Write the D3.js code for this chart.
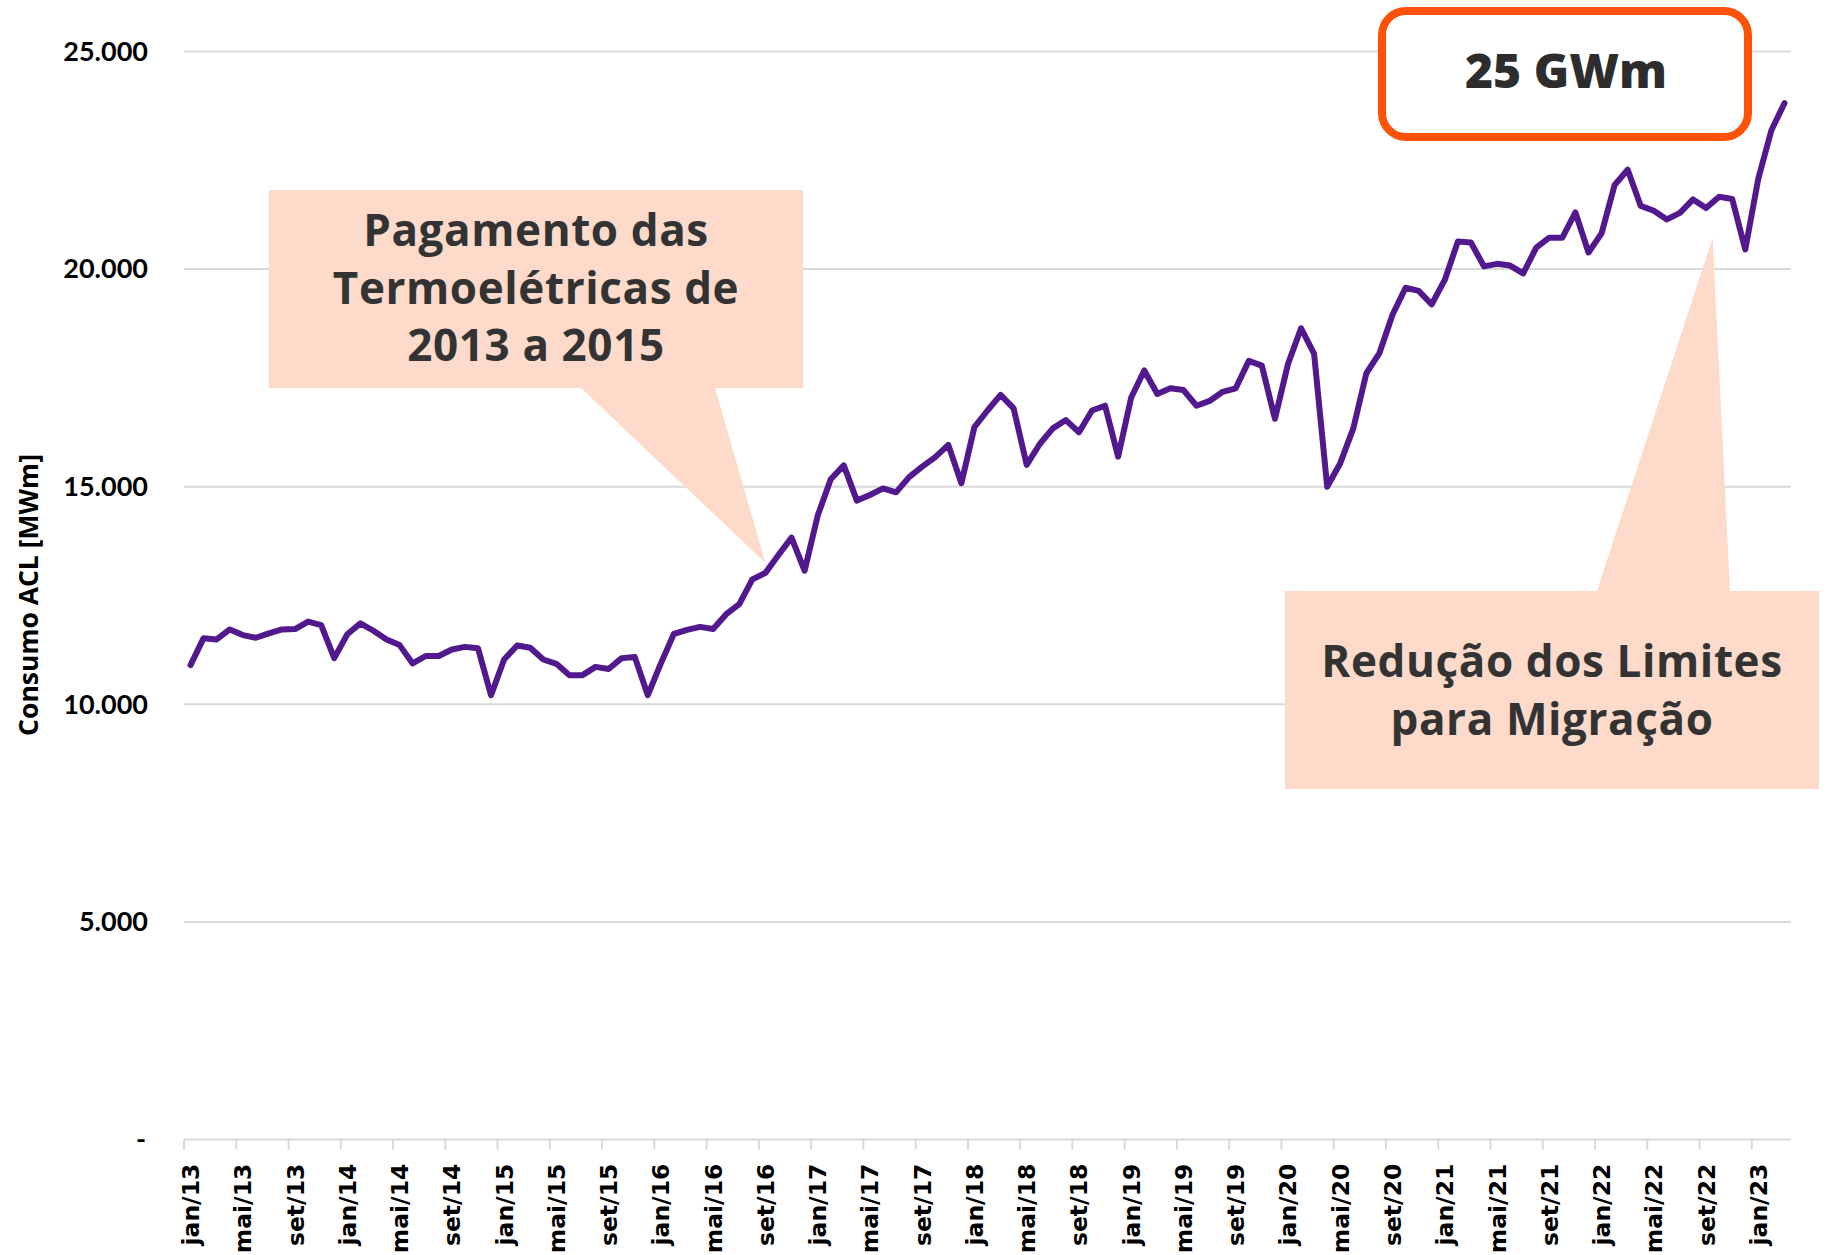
<!DOCTYPE html>
<html>
<head>
<meta charset="utf-8">
<script src="https://cdn.jsdelivr.net/npm/d3@7"></script>
<style>
    body { margin: 0; background: #fff; }
    svg { display: block; }
    .y-tick { font-family: Lato, sans-serif; font-weight: 700; font-size: 27px; fill: #000; }
    .x-tick { font-family: "DejaVu Sans", sans-serif; font-weight: 700; font-size: 23.5px; fill: #000; }
    .y-title { font-family: "Open Sans", sans-serif; font-weight: 700; font-size: 26.5px; fill: #000; }
    .callout-text { font-family: "Open Sans", sans-serif; font-weight: 700; font-size: 44px; letter-spacing: 0.6px; fill: #333; }
    .badge-text { font-family: "Open Sans", sans-serif; font-weight: 800; font-size: 48px; fill: #2d2d2d; }
</style>
</head>
<body>
<svg id="chart"></svg>
<script>
// month names (pt-BR) and years covered by the series
const monthNames = ['jan', 'fev', 'mar', 'abr', 'mai', 'jun', 'jul', 'ago', 'set', 'out', 'nov', 'dez'];
const years = ['13', '14', '15', '16', '17', '18', '19', '20', '21', '22', '23'];

// Consumo ACL [MWm], jan/13 .. mar/23
const consumo = [
    10900, 11520, 11490, 11720, 11590, 11530, 11630, 11720, 11730, 11900, 11820, 11060, // 2013
    11610, 11860, 11690, 11490, 11360, 10940, 11110, 11110, 11260, 11320, 11290, 10210, // 2014
    11030, 11350, 11300, 11030, 10930, 10670, 10670, 10860, 10810, 11060, 11090, 10210, // 2015
    10940, 11620, 11710, 11780, 11730, 12070, 12300, 12870, 13020, 13430, 13830, 13070, // 2016
    14330, 15170, 15490, 14680, 14810, 14960, 14870, 15220, 15460, 15680, 15960, 15080, // 2017
    16370, 16750, 17110, 16800, 15500, 15980, 16340, 16530, 16250, 16750, 16860, 15690, // 2018
    17050, 17670, 17130, 17260, 17220, 16860, 16970, 17180, 17260, 17890, 17780, 16560, // 2019
    17820, 18640, 18050, 15000, 15540, 16340, 17610, 18070, 18950, 19570, 19500, 19190, // 2020
    19750, 20630, 20610, 20060, 20120, 20080, 19900, 20490, 20720, 20720, 21300, 20380, // 2021
    20820, 21930, 22280, 21450, 21340, 21140, 21290, 21600, 21400, 21660, 21610, 20450, // 2022
    22080, 23190, 23810                                                                 // 2023
];

const categories = [];
years.forEach(yy => monthNames.forEach(m => categories.push(`${m}/${yy}`)));
categories.length = consumo.length;

const tickLabels = ['jan/13', 'mai/13', 'set/13', 'jan/14', 'mai/14', 'set/14', 'jan/15', 'mai/15', 'set/15',
    'jan/16', 'mai/16', 'set/16', 'jan/17', 'mai/17', 'set/17', 'jan/18', 'mai/18', 'set/18', 'jan/19',
    'mai/19', 'set/19', 'jan/20', 'mai/20', 'set/20', 'jan/21', 'mai/21', 'set/21', 'jan/22', 'mai/22',
    'set/22', 'jan/23'];
const yTicks = [0, 5000, 10000, 15000, 20000, 25000];

const callout1Lines = ['Pagamento das', 'Termoelétricas de', '2013 a 2015'];
const callout2Lines = ['Redução dos Limites', 'para Migração'];
const badgeText = '25 GWm';

const data = categories.map((c, i) => ({month: c, value: consumo[i]}));

const config = {
    width: 1828,
    height: 1255,
    margin: {top: 51.4, right: 37, bottom: 115.4, left: 184}
};
const innerW = config.width - config.margin.left - config.margin.right;
const innerH = config.height - config.margin.top - config.margin.bottom;

const svg = d3.select('#chart')
    .attr('width', config.width)
    .attr('height', config.height);

const chart = svg.append('g')
    .attr('transform', `translate(${config.margin.left},${config.margin.top})`);

const xScale = d3.scaleBand()
    .domain(categories)
    .range([0, innerW])
    .padding(0);

const yScale = d3.scaleLinear()
    .domain([0, 25000])
    .range([innerH, 0]);

const fmt = v => v === 0 ? '-' : d3.format(',')(v).replace(/,/g, '.');

// gridlines
chart.append('g')
    .selectAll('line')
    .data(yTicks.filter(d => d > 0))
    .join('line')
    .attr('x1', 0)
    .attr('x2', innerW)
    .attr('y1', d => yScale(d))
    .attr('y2', d => yScale(d))
    .attr('stroke', '#d9d9d9')
    .attr('stroke-width', 2);

// y tick labels
chart.append('g')
    .selectAll('text')
    .data(yTicks)
    .join('text')
    .attr('class', 'y-tick')
    .attr('x', d => d === 0 ? -38 : -36)
    .attr('y', d => yScale(d))
    .attr('dy', '0.35em')
    .attr('text-anchor', 'end')
    .text(fmt);

// x axis: line, ticks at band starts, rotated labels at band centres
const xAxis = chart.append('g')
    .attr('transform', `translate(0,${innerH})`);

xAxis.append('line')
    .attr('x1', 0)
    .attr('x2', innerW)
    .attr('stroke', '#d9d9d9')
    .attr('stroke-width', 2);

xAxis.selectAll('.tick-mark')
    .data(tickLabels)
    .join('line')
    .attr('class', 'tick-mark')
    .attr('x1', d => xScale(d))
    .attr('x2', d => xScale(d))
    .attr('y1', 0)
    .attr('y2', 10)
    .attr('stroke', '#d9d9d9')
    .attr('stroke-width', 2);

xAxis.selectAll('.x-tick')
    .data(tickLabels)
    .join('text')
    .attr('class', 'x-tick')
    .attr('text-anchor', 'end')
    .attr('dy', '0.36em')
    .attr('transform', d => `translate(${xScale(d) + xScale.bandwidth() / 2},24) rotate(-90)`)
    .text(d => d);

// y axis title
svg.append('text')
    .attr('class', 'y-title')
    .attr('text-anchor', 'middle')
    .attr('dy', '0.35em')
    .attr('transform', 'translate(29,595) rotate(-90)')
    .text('Consumo ACL [MWm]');

// series line
const line = d3.line()
    .x(d => xScale(d.month) + xScale.bandwidth() / 2)
    .y(d => yScale(d.value));

chart.append('path')
    .datum(data)
    .attr('fill', 'none')
    .attr('stroke', '#52198f')
    .attr('stroke-width', 6)
    .attr('stroke-linejoin', 'round')
    .attr('stroke-linecap', 'round')
    .attr('d', line);

// callout 1 (box with pointer down to set/16)
const tip1 = {x: config.margin.left + xScale('set/16') + xScale.bandwidth() / 2, y: config.margin.top + yScale(13250)};
svg.append('path')
    .attr('fill', '#fddaca')
    .attr('d', `M269,190 H803 V388 H715 L${tip1.x},${tip1.y} L581,388 H269 Z`);

svg.append('g')
    .selectAll('text')
    .data(callout1Lines)
    .join('text')
    .attr('class', 'callout-text')
    .attr('text-anchor', 'middle')
    .attr('x', 536)
    .attr('y', (d, i) => 246 + i * 57.5)
    .text(d => d);

// callout 2 (box with pointer up to out/22)
const tip2 = {x: config.margin.left + xScale('out/22'), y: config.margin.top + yScale(20710)};
svg.append('path')
    .attr('fill', '#fddaca')
    .attr('d', `M1285,591 H1597 L${tip2.x},${tip2.y} L1730,591 H1819 V789 H1285 Z`);

svg.append('g')
    .selectAll('text')
    .data(callout2Lines)
    .join('text')
    .attr('class', 'callout-text')
    .attr('text-anchor', 'middle')
    .attr('x', 1552)
    .attr('y', (d, i) => 677 + i * 57.5)
    .text(d => d);

// 25 GWm badge
svg.append('rect')
    .attr('x', 1382)
    .attr('y', 11)
    .attr('width', 366)
    .attr('height', 126)
    .attr('rx', 24)
    .attr('fill', '#fff')
    .attr('stroke', '#ff5206')
    .attr('stroke-width', 8);

svg.append('text')
    .attr('class', 'badge-text')
    .attr('text-anchor', 'middle')
    .attr('x', 1566)
    .attr('y', 88)
    .text(badgeText);
</script>
</body>
</html>
